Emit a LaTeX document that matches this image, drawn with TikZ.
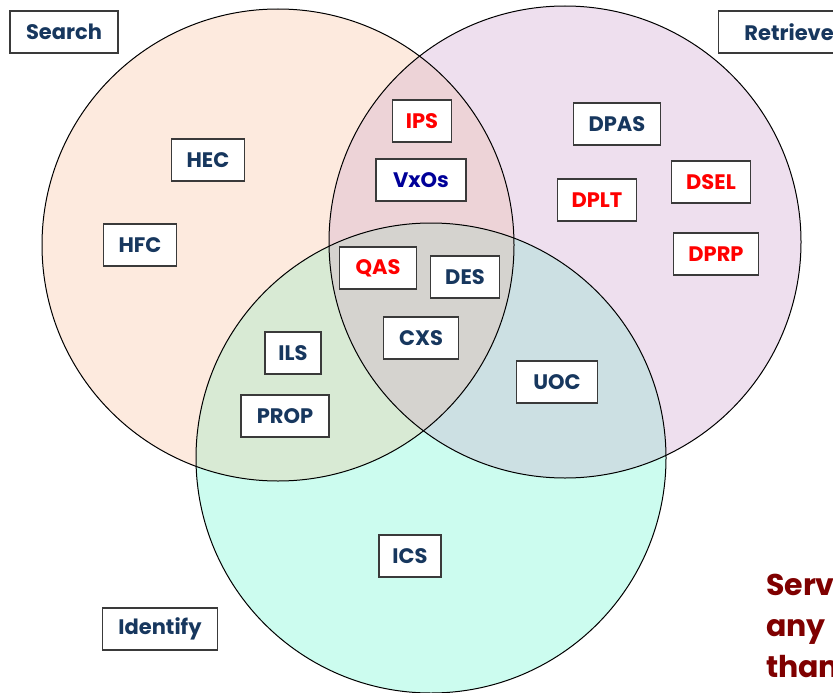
\documentclass[tikz,border=0pt]{standalone}
\usepackage{fontspec}
\setmainfont{Poppins}
\definecolor{peach}{HTML}{FDEADE}
\definecolor{lavender}{HTML}{EEDFEE}
\definecolor{mint}{HTML}{CCFCEF}
\definecolor{sr}{HTML}{EDD3D7}
\definecolor{si}{HTML}{D8EAD4}
\definecolor{ri}{HTML}{CCE0E3}
\definecolor{sri}{HTML}{D5D3CF}
\definecolor{navy}{HTML}{17375E}
\definecolor{vxblue}{HTML}{000099}
\definecolor{maroon}{HTML}{7F0000}
\definecolor{boxborder}{HTML}{3A3A3A}
\begin{document}
\begin{tikzpicture}[x=1pt,y=-1pt,
  box/.style={draw=boxborder, line width=1.2pt, fill=white, minimum height=42pt, inner sep=0pt,
    font=\bfseries\fontsize{21}{25}\selectfont, text=navy},
  redbox/.style={box, text=red},
  ring/.style={draw=black, line width=1pt}]
\useasboundingbox (0,0) rectangle (833,693);
\clip (0,0) rectangle (833,693);
% base fills
\fill[peach] (278,245) circle[radius=236pt];
\fill[lavender] (565,242) circle[radius=236pt];
\fill[mint] (431,458) circle[radius=235pt];
% pairwise overlaps
\begin{scope}
  \clip (278,245) circle[radius=236pt];
  \fill[sr] (565,242) circle[radius=236pt];
\end{scope}
\begin{scope}
  \clip (278,245) circle[radius=236pt];
  \fill[si] (431,458) circle[radius=235pt];
\end{scope}
\begin{scope}
  \clip (565,242) circle[radius=236pt];
  \fill[ri] (431,458) circle[radius=235pt];
\end{scope}
\begin{scope}
  \clip (278,245) circle[radius=236pt];
  \clip (565,242) circle[radius=236pt];
  \fill[sri] (431,458) circle[radius=235pt];
\end{scope}
% outlines
\draw[ring] (278,245) circle[radius=236pt];
\draw[ring] (565,242) circle[radius=236pt];
\draw[ring] (431,458) circle[radius=235pt];
% set labels
\node[box, minimum width=108pt] (search) at (64,32) {Search};
\node[box, minimum width=128pt, anchor=west] (retrieve) at (718,32) {\hspace*{13pt}Retrieve\hfill};
\node[box, minimum width=115pt] (identify) at (160,629) {Identify};
% services
\node[box, minimum width=73pt] (hec) at (208,160) {HEC};
\node[box, minimum width=73pt] (hfc) at (140,245) {HFC};
\node[redbox, minimum width=59pt] (ips) at (422,121) {IPS};
\node[box, text=vxblue, minimum width=90pt] (vxos) at (421,180) {VxOs};
\node[box, minimum width=87pt] (dpas) at (617,124) {DPAS};
\node[redbox, minimum width=79pt] (dplt) at (597,200) {DPLT};
\node[redbox, minimum width=79pt] (dsel) at (711,182) {DSEL};
\node[redbox, minimum width=85pt] (dprp) at (716,254) {DPRP};
\node[redbox, minimum width=77pt] (qas) at (378,268) {QAS};
\node[box, minimum width=69pt] (des) at (465,277) {DES};
\node[box, minimum width=75pt] (cxs) at (421,338) {CXS};
\node[box, minimum width=56pt] (ils) at (293,353) {ILS};
\node[box, minimum width=88pt] (prop) at (285,416) {PROP};
\node[box, minimum width=81pt] (uoc) at (557,382) {UOC};
\node[box, minimum width=62pt] (ics) at (410,556) {ICS};
% note (cut off at the right edge, as in the reference)
\node[anchor=base west, align=left, inner sep=0pt, text=maroon,
  font=\bfseries\fontsize{30}{41}\selectfont] (note) at (766,677) {Serv\\any\\than};
\end{tikzpicture}
\end{document}
